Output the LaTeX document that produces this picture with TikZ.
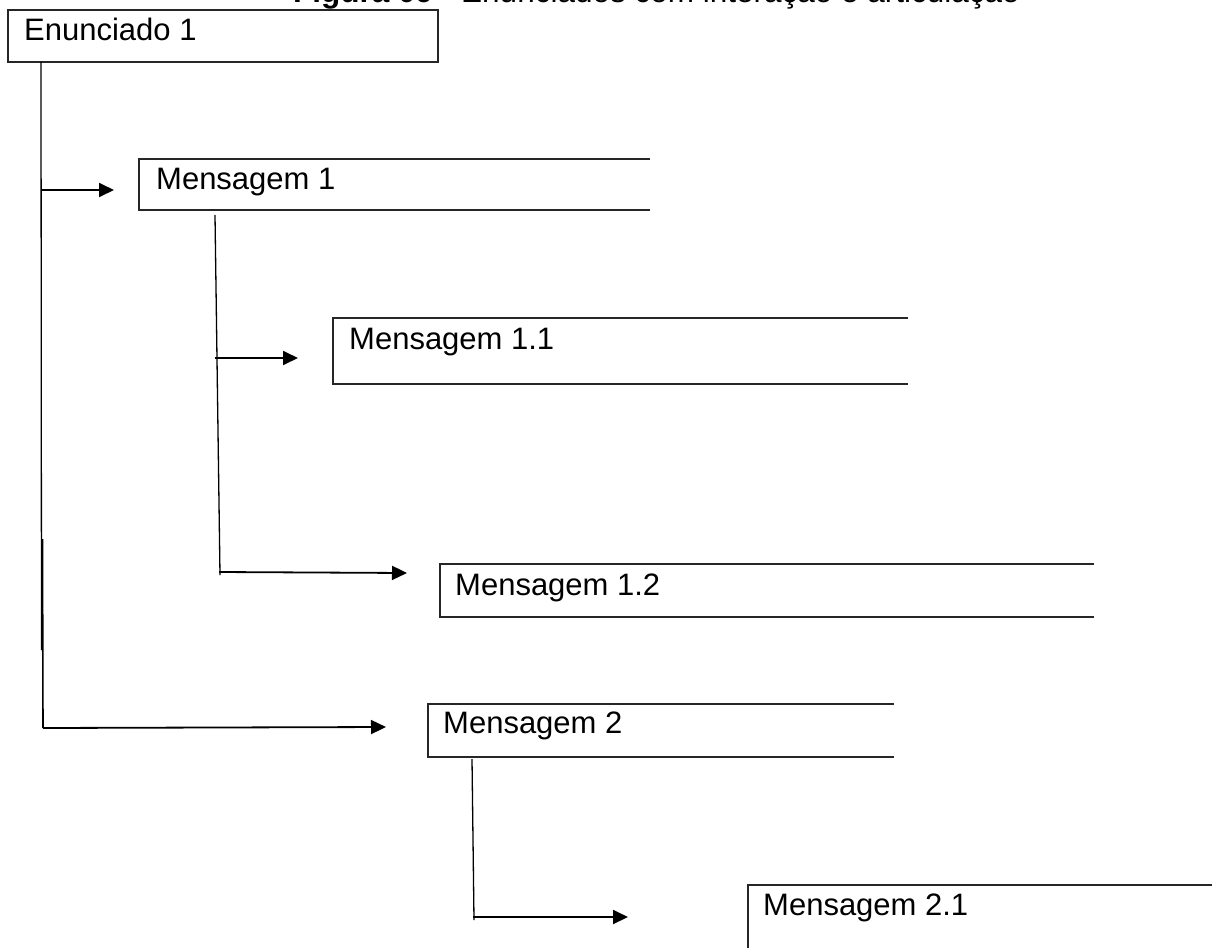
\documentclass[tikz,border=0pt]{standalone}
\usepackage{fontspec}
\setmainfont{Liberation Sans}
\usetikzlibrary{arrows.meta,calc}
\begin{document}
\begin{tikzpicture}[x=1pt,y=-1pt,
  lbl/.style={anchor=base west, inner sep=0pt, font=\fontsize{31}{37}\selectfont},
  boxarea/.style={anchor=north west, inner sep=0pt, outer sep=0pt, draw=none},
  frame/.style={line width=1.4pt, draw=black!85},
  stem/.style={line width=1.3pt},
  arr/.style={line width=1.8pt, -{Triangle[length=15pt,width=14pt]}}]
\useasboundingbox (0,0) rectangle (1217,947);
\clip (0,0) rectangle (1217,947);
\fill[white] (0,0) rectangle (1217,947);

% title (cut at the top edge)
\node[lbl, font=\fontsize{31.5}{37}\selectfont] (title) at (293,3) {\textbf{Figura 09} - Enunciados com interação e articulação};

% box areas
\node[boxarea, minimum width=430, minimum height=52] (e1) at (8,10) {};
\node[boxarea, minimum width=511, minimum height=51] (m1) at (139,159) {};
\node[boxarea, minimum width=575, minimum height=66] (m11) at (333,318) {};
\node[boxarea, minimum width=654, minimum height=53] (m12) at (440,564) {};
\node[boxarea, minimum width=466, minimum height=53] (m2) at (428,704) {};
\node[boxarea, minimum width=464, minimum height=80] (m21) at (748,885) {};

% frames
\draw[frame] (e1.north west) rectangle (e1.south east);
\foreach \b in {m1,m11,m12,m2,m21}
  \draw[frame] (\b.north east) -- (\b.north west) -- (\b.south west) -- (\b.south east);

% labels
\node[lbl] (e1t) at ($(e1.north west)+(16,31)$) {Enunciado 1};
\node[lbl] (m1t) at ($(m1.north west)+(17,30)$) {Mensagem 1};
\node[lbl] (m11t) at ($(m11.north west)+(16,31)$) {Mensagem 1.1};
\node[lbl] (m12t) at ($(m12.north west)+(15,31)$) {Mensagem 1.2};
\node[lbl] (m2t) at ($(m2.north west)+(15,29)$) {Mensagem 2};
\node[lbl] (m21t) at ($(m21.north west)+(15,30)$) {Mensagem 2.1};

% stems and branch points
\coordinate (e1s) at (41,62);
\coordinate (e1a) at (41.5,650);
\coordinate (e1b) at (42.5,539);
\coordinate (e1c) at (43,728);
\coordinate (b1) at (41,190);
\coordinate (m1s) at (215,215);
\coordinate (m1e) at (220,575);
\coordinate (b11) at (215,358);
\coordinate (b12) at (219,572);
\coordinate (m2s) at (472,759);
\coordinate (m2e) at (474,920);
\coordinate (b21) at (473,917);

\draw[stem] (e1s) -- (e1a);
\draw[stem, line width=1.6pt] (e1b) -- (e1c);
\draw[stem] (m1s) -- (m1e);
\draw[stem] (m2s) -- (m2e);

% arrows
\draw[arr] (b1) -- ($(m1.west |- b1)+(-25,0)$);
\draw[arr] (b11) -- ($(m11.west |- b11)+(-35,0)$);
\draw[arr] (b12) -- ($(m12.west |- b12)+(-33,1)$);
\draw[arr] (e1c) -- ($(m2.west |- e1c)+(-42,-1)$);
\draw[arr] (b21) -- ($(m21.west |- b21)+(-120,0)$);
\end{tikzpicture}
\end{document}
